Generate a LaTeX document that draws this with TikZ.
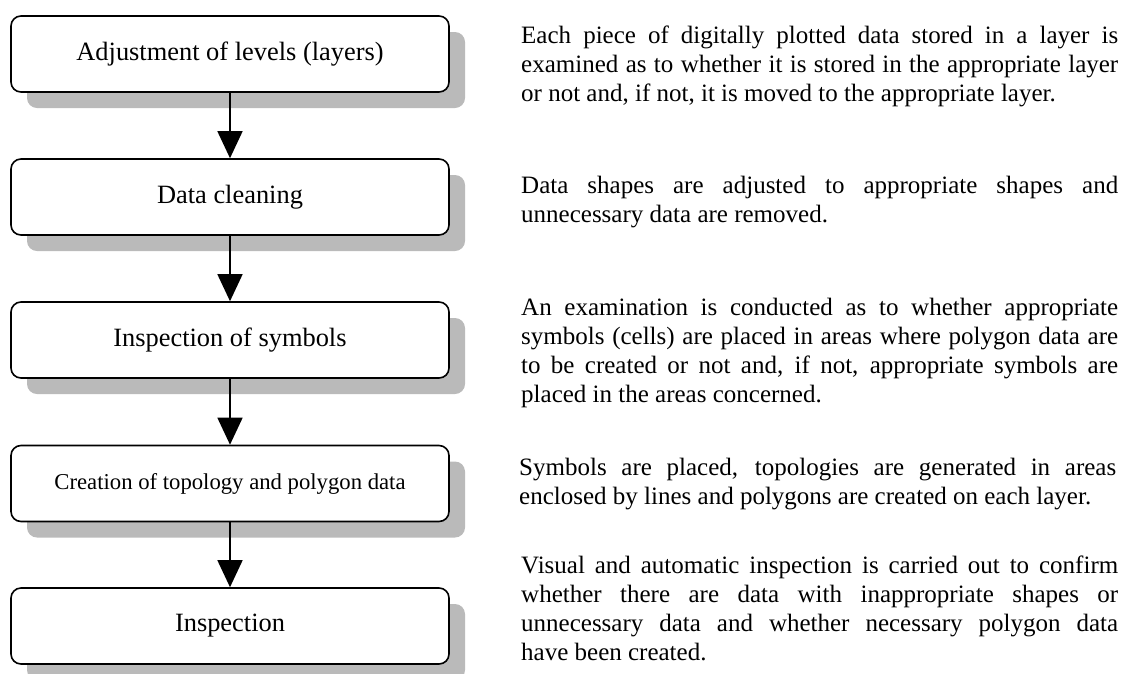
\documentclass[tikz,border=0pt]{standalone}
\usepackage{fontspec}
\setmainfont{Liberation Serif}
\usetikzlibrary{arrows.meta,shadows}
\begin{document}
\begin{tikzpicture}[x=1pt,y=-1pt,
  stepbox/.style={draw, line width=1.6pt, rounded corners=10pt, fill=white,
    minimum width=438pt, minimum height=76pt, inner sep=0pt,
    font=\fontsize{26.4}{30}\selectfont,
    drop shadow={shadow xshift=16pt, shadow yshift=-16pt, fill=black!27, opacity=1}},
  flow/.style={line width=1.5pt, -{Triangle[width=25pt,length=27pt]}},
  desc/.style={anchor=base west, inner sep=0pt, font=\fontsize{25}{29.3}\selectfont}]
\useasboundingbox (0,0) rectangle (1124,673);
\node[stepbox] (b1) at (230,54) {Adjustment of levels (layers)};
\node[stepbox] (b2) at (230,197) {Data cleaning};
\node[stepbox] (b3) at (230,340) {Inspection of symbols};
\node[stepbox, font=\fontsize{22.7}{27}\selectfont] (b4) at (230,483.5) {Creation of topology and polygon data};
\node[stepbox] (b5) at (230,626) {Inspection};
\draw[flow] (b1) -- (b2);
\draw[flow] (b2) -- (b3);
\draw[flow] (b3) -- (b4);
\draw[flow] (b4) -- (b5);
\node[desc] (d1) at (521,43) {\parbox[t]{597pt}{Each piece of digitally plotted data stored in a layer is\linebreak examined as to whether it is stored in the appropriate layer\linebreak or not and, if not, it is moved to the appropriate layer.}};
\node[desc] (d2) at (521,193) {\parbox[t]{597pt}{Data shapes are adjusted to appropriate shapes and\linebreak unnecessary data are removed.}};
\node[desc] (d3) at (521,315) {\parbox[t]{597pt}{An examination is conducted as to whether appropriate\linebreak symbols (cells) are placed in areas where polygon data are\linebreak to be created or not and, if not, appropriate symbols are\linebreak placed in the areas concerned.}};
\node[desc] (d4) at (519,475) {\parbox[t]{597pt}{Symbols are placed, topologies are generated in areas\linebreak enclosed by lines and polygons are created on each layer.}};
\node[desc] (d5) at (521,573) {\parbox[t]{597pt}{Visual and automatic inspection is carried out to confirm\linebreak whether there are data with inappropriate shapes or\linebreak unnecessary data and whether necessary polygon data\linebreak have been created.}};
\end{tikzpicture}
\end{document}
